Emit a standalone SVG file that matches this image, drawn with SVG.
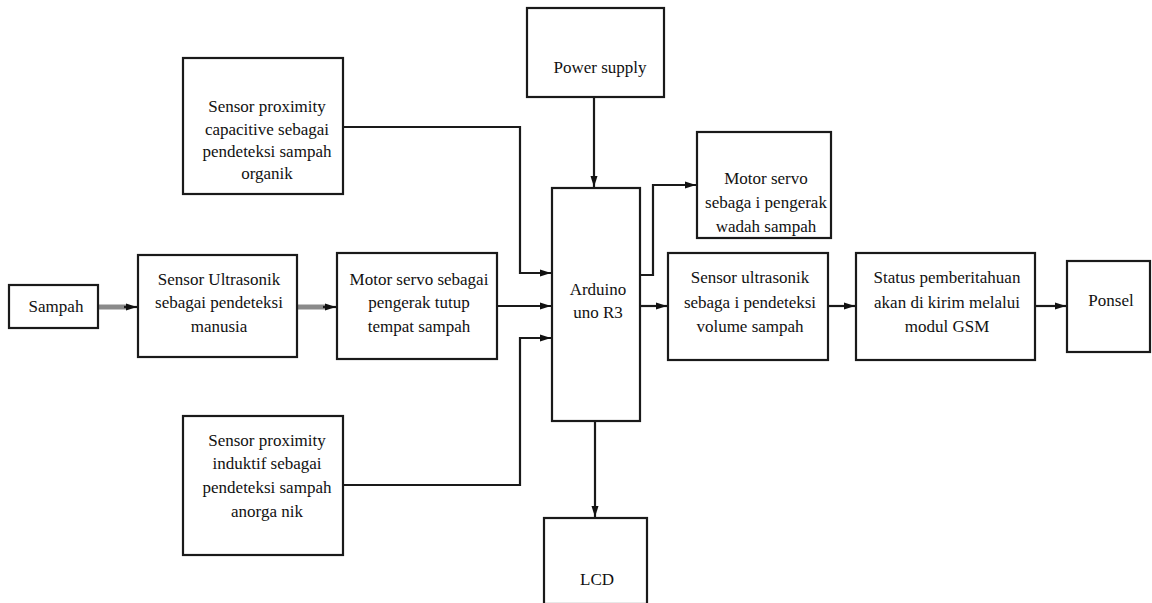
<svg xmlns="http://www.w3.org/2000/svg" width="1152" height="603" viewBox="0 0 1152 603">
<style>
  .box { fill: #ffffff; stroke: #1a1a1a; stroke-width: 2.2; }
  .t { font-family: "Liberation Serif", "DejaVu Serif", "Times New Roman", serif; font-size: 17px; fill: #111; text-anchor: middle; }
  .c { fill: none; stroke: #1a1a1a; stroke-width: 2.2; }
  .g { fill: none; stroke: #8a8a8a; stroke-width: 5; }
</style>
<defs>
  <marker id="ah" markerUnits="userSpaceOnUse" markerWidth="12" markerHeight="10" refX="11" refY="5" orient="auto">
    <path d="M0,1.5 L11,5 L0,8.5 Z" fill="#111"/>
  </marker>
</defs>
<rect width="1152" height="603" fill="#ffffff"/>

<g id="connectors">
  <line class="g" x1="98" y1="307" x2="126" y2="307"/>
  <line class="c" x1="124" y1="307" x2="137" y2="307" marker-end="url(#ah)"/>
  <line class="g" x1="297" y1="307" x2="325" y2="307"/>
  <line class="c" x1="323" y1="307" x2="336" y2="307" marker-end="url(#ah)"/>
  <polyline class="c" points="343,127 520,127 520,273 551,273" marker-end="url(#ah)"/>
  <line class="c" x1="497" y1="306" x2="551" y2="306" marker-end="url(#ah)"/>
  <polyline class="c" points="343,485 520,485 520,338 551,338" marker-end="url(#ah)"/>
  <line class="c" x1="594" y1="97" x2="594" y2="187" marker-end="url(#ah)"/>
  <line class="c" x1="595" y1="421" x2="595" y2="517" marker-end="url(#ah)"/>
  <polyline class="c" points="640,275 653,275 653,185 696,185" marker-end="url(#ah)"/>
  <line class="c" x1="640" y1="306" x2="667" y2="306" marker-end="url(#ah)"/>
  <line class="c" x1="828" y1="306" x2="855" y2="306" marker-end="url(#ah)"/>
  <line class="c" x1="1035" y1="306" x2="1066" y2="306" marker-end="url(#ah)"/>
</g>

<g id="sampah">
  <rect class="box" x="9" y="285" width="89" height="43"/>
  <text class="t" x="56" y="312">Sampah</text>
</g>

<g id="sensor-ultrasonik-manusia">
  <rect class="box" x="138" y="255" width="159" height="102"/>
  <text class="t" x="219" y="285">Sensor  Ultrasonik</text>
  <text class="t" x="219" y="308">sebagai pendeteksi</text>
  <text class="t" x="219" y="332">manusia</text>
</g>

<g id="motor-servo-tutup">
  <rect class="box" x="337" y="253" width="160" height="106"/>
  <text class="t" x="419" y="285">Motor  servo  sebagai</text>
  <text class="t" x="419" y="308">pengerak tutup</text>
  <text class="t" x="419" y="332">tempat  sampah</text>
</g>

<g id="sensor-capacitive">
  <rect class="box" x="183" y="58" width="160" height="136"/>
  <text class="t" x="267" y="112">Sensor  proximity</text>
  <text class="t" x="267" y="135">capacitive sebagai</text>
  <text class="t" x="267" y="157">pendeteksi sampah</text>
  <text class="t" x="267" y="179">organik</text>
</g>

<g id="sensor-induktif">
  <rect class="box" x="183" y="416" width="160" height="139"/>
  <text class="t" x="267" y="446">Sensor  proximity</text>
  <text class="t" x="267" y="469">induktif sebagai</text>
  <text class="t" x="267" y="493">pendeteksi sampah</text>
  <text class="t" x="267" y="517">anorga nik</text>
</g>

<g id="power-supply">
  <rect class="box" x="527" y="8" width="137" height="89"/>
  <text class="t" x="600" y="73">Power  supply</text>
</g>

<g id="arduino">
  <rect class="box" x="552" y="188" width="88" height="233"/>
  <text class="t" x="598" y="295">Arduino</text>
  <text class="t" x="598" y="318">uno  R3</text>
</g>

<g id="lcd">
  <rect class="box" x="544" y="518" width="103" height="86"/>
  <text class="t" x="597" y="585">LCD</text>
</g>

<g id="motor-servo-wadah">
  <rect class="box" x="697" y="132" width="134" height="106"/>
  <text class="t" x="766" y="184">Motor  servo</text>
  <text class="t" x="766" y="208">sebaga i pengerak</text>
  <text class="t" x="766" y="232">wadah  sampah</text>
</g>

<g id="sensor-ultrasonik-volume">
  <rect class="box" x="668" y="253" width="160" height="107"/>
  <text class="t" x="750" y="283">Sensor  ultrasonik</text>
  <text class="t" x="750" y="308">sebaga i pendeteksi</text>
  <text class="t" x="750" y="332">volume sampah</text>
</g>

<g id="status-gsm">
  <rect class="box" x="856" y="253" width="179" height="107"/>
  <text class="t" x="947" y="283">Status  pemberitahuan</text>
  <text class="t" x="947" y="308">akan  di  kirim  melalui</text>
  <text class="t" x="947" y="332">modul  GSM</text>
</g>

<g id="ponsel">
  <rect class="box" x="1067" y="261" width="83" height="91"/>
  <text class="t" x="1111" y="306">Ponsel</text>
</g>
</svg>
